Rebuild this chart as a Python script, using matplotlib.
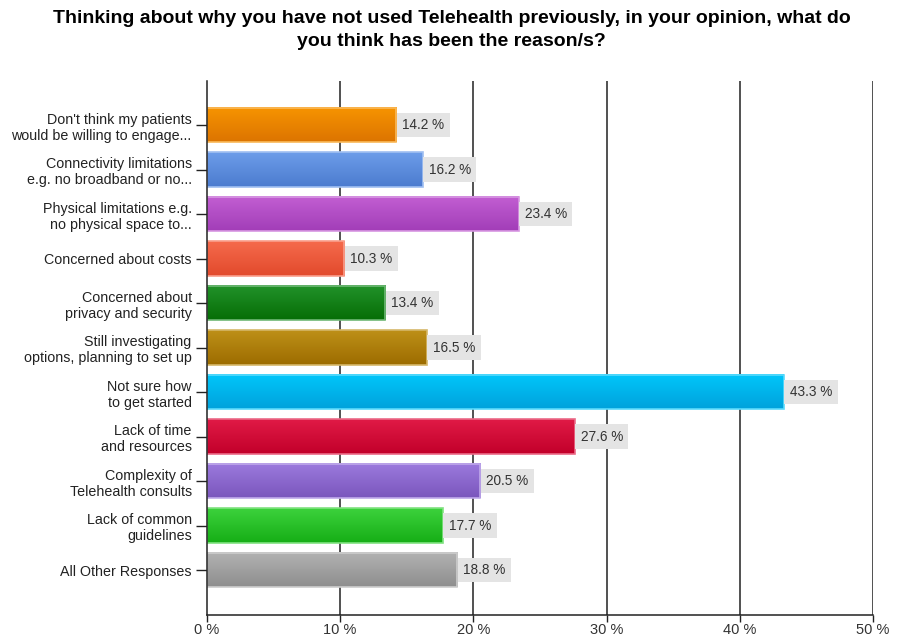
import numpy as np
import matplotlib
matplotlib.use("Agg")
import matplotlib.pyplot as plt
from matplotlib.patches import Rectangle
from matplotlib.colors import to_rgb

plt.rcParams['font.family'] = ['Liberation Sans', 'DejaVu Sans']

categories = [
    "Don't think my patients\nwould be willing to engage...",
    "Connectivity limitations\ne.g. no broadband or no...",
    "Physical limitations e.g.\nno physical space to...",
    "Concerned about costs",
    "Concerned about\nprivacy and security",
    "Still investigating\noptions, planning to set up",
    "Not sure how\nto get started",
    "Lack of time\nand resources",
    "Complexity of\nTelehealth consults",
    "Lack of common\nguidelines",
    "All Other Responses",
]
values = [14.2, 16.2, 23.4, 10.3, 13.4, 16.5, 43.3, 27.6, 20.5, 17.7, 18.8]
top_colors = ["#f79400", "#6d9de9", "#c25fd2", "#f56a4c", "#22922a", "#be9018",
              "#00c6fa", "#e01a46", "#9c7ade", "#3cd23c", "#b2b2b2"]
bottom_colors = ["#dc7400", "#4b7bcf", "#a23db8", "#e24a2c", "#066e06", "#9c6c00",
                 "#00a2dc", "#c2002a", "#7a56bc", "#16ae16", "#8e8e8e"]
xticks = [0, 10, 20, 30, 40, 50]
xtick_labels = ["0 %", "10 %", "20 %", "30 %", "40 %", "50 %"]
title = ("Thinking about why you have not used Telehealth previously, in your opinion, what do\n"
         "you think has been the reason/s?")

fig = plt.figure(figsize=(9.03, 6.37), dpi=100)
ax = fig.add_axes([0.2292, 0.0353, 0.7376, 0.8383])

bar_h = 0.78
n = len(values)

for i, (v, c0, c1) in enumerate(zip(values, top_colors, bottom_colors)):
    a = np.array(to_rgb(c0))
    b = np.array(to_rgb(c1))
    t = np.linspace(0, 1, 64)[:, None]
    grad = (a * (1 - t) + b * t)[:, None, :]
    ax.imshow(grad, extent=[0, v, i + bar_h / 2, i - bar_h / 2],
              aspect='auto', zorder=3, interpolation='bilinear')
    edge = a + (1 - a) * 0.35
    ax.add_patch(Rectangle((0, i - bar_h / 2), v, bar_h, fill=False,
                           edgecolor=edge, linewidth=1.2, zorder=4))
    ax.text(v + 0.45, i, f"{v:.1f} %", va='center', ha='left', fontsize=9.8,
            color='#333333', zorder=5,
            bbox=dict(boxstyle='square,pad=0.4', facecolor='#e4e4e4',
                      edgecolor='none'))

ax.set_xlim(0, 50)
ax.set_ylim(n, -1)

for x in xticks[1:]:
    ax.axvline(x, color='#222222', linewidth=1.1, zorder=1)

ax.set_yticks(range(n))
ax.set_yticklabels(categories, fontsize=10.3, color='#222222', linespacing=1.2)
ax.set_xticks(xticks)
ax.set_xticklabels(xtick_labels, fontsize=10.5, color='#333333')
ax.tick_params(axis='y', length=8, width=1, color='#222222', pad=3)
ax.tick_params(axis='x', length=5, width=1, color='#222222', pad=1)

for s in ['top', 'right']:
    ax.spines[s].set_visible(False)
for s in ['left', 'bottom']:
    ax.spines[s].set_color('#222222')
    ax.spines[s].set_linewidth(1.1)
ax.spines['left'].set_zorder(6)

fig.text(0.5, 0.985, title, ha='center', va='top', fontsize=14,
         fontweight='bold', color='#000000', linespacing=1.5)

fig.savefig("out.png", dpi=100)
